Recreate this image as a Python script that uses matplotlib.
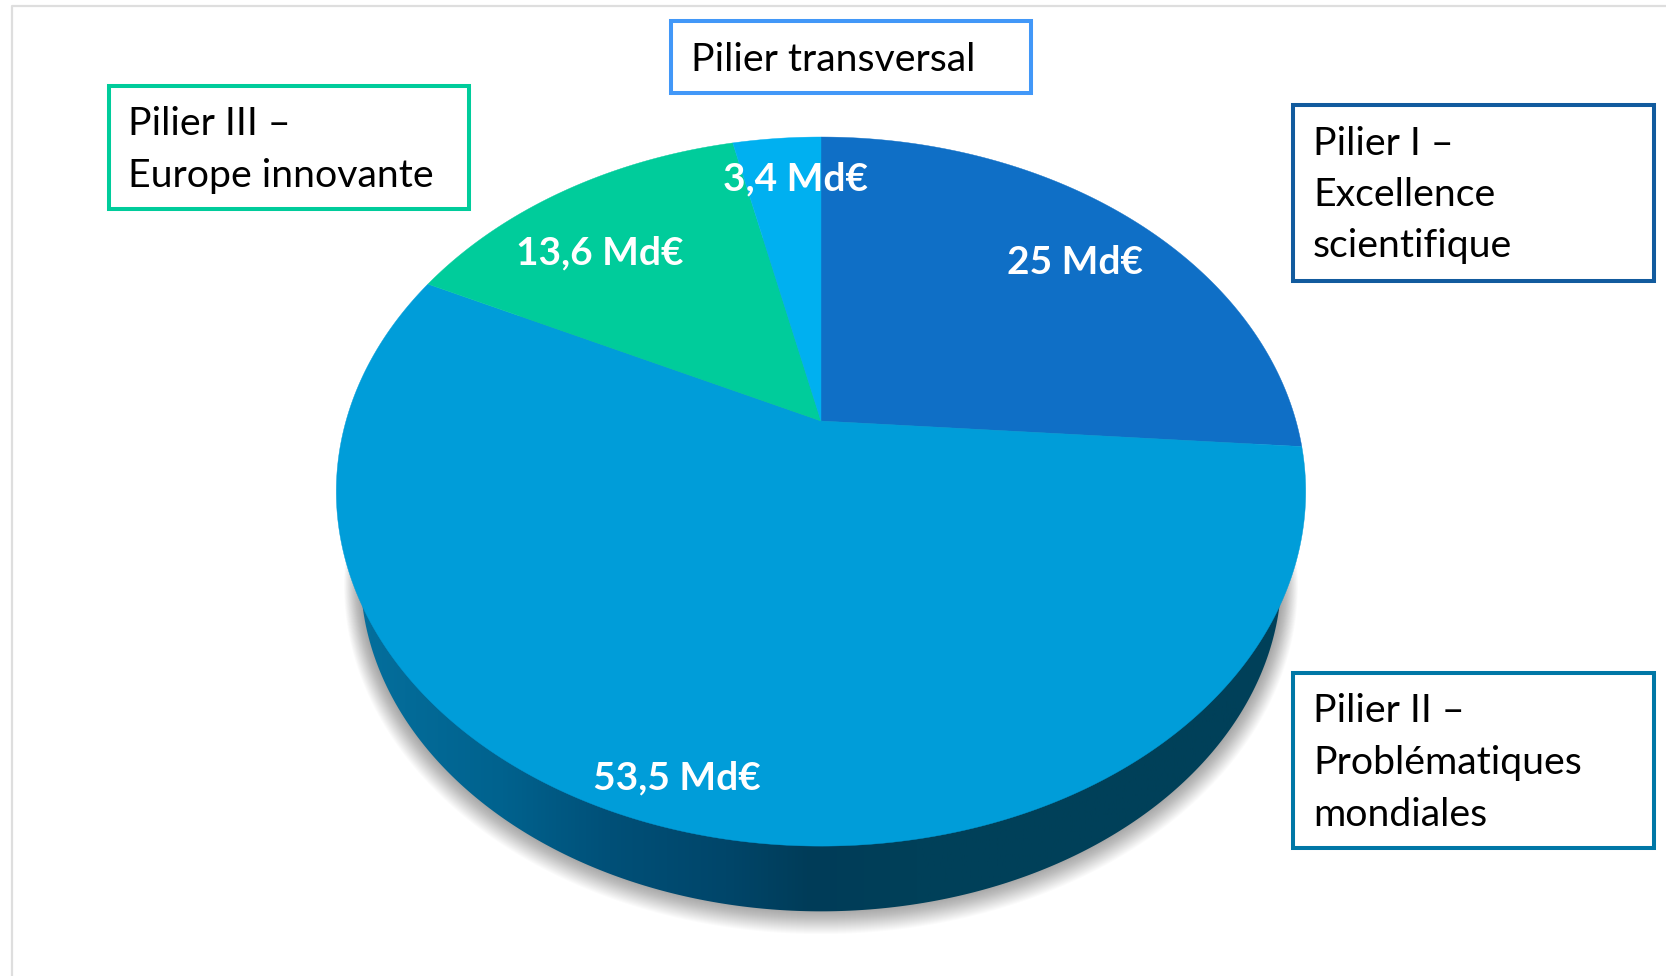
import numpy as np
import matplotlib
matplotlib.use("Agg")
import matplotlib.pyplot as plt
from matplotlib.colors import LinearSegmentedColormap
from matplotlib.patches import Polygon, Rectangle

# --- data ---
categories = ["Pilier I", "Pilier II", "Pilier III", "Pilier transversal"]
values = [25, 53.5, 13.6, 3.4]
value_labels = ["25 Md€", "53,5 Md€", "13,6 Md€", "3,4 Md€"]
box_lines = [
    ["Pilier I –", "Excellence", "scientifique"],
    ["Pilier II –", "Problématiques", "mondiales"],
    ["Pilier III –", "Europe innovante"],
    ["Pilier transversal"],
]
wedge_colors = ["#0F6FC6", "#009DD9", "#00CC9B", "#00B0F0"]
box_colors = ["#125B9E", "#0077A6", "#00CC9B", "#4298F8"]

# --- layout (pixels) ---
W, H = 1666, 976
CX, CY = 821, 421
A, B, K = 475, 340.5, 0.199
label_pos = [(1075, 263), (677, 778), (600, 253), (796, 179)]
box_rects = [(1293, 105, 1654, 281), (1293, 673, 1654, 848),
             (109, 86, 469, 209), (671, 21, 1031, 93)]
box_text_x = [1313, 1313, 128, 691]
box_base = [[155, 206, 257], [722, 774, 826], [135, 187], [71]]

plt.rcParams["font.family"] = ["Lato", "DejaVu Sans"]
fig = plt.figure(figsize=(W / 100, H / 100), dpi=100, facecolor="white")
ax = fig.add_axes([0, 0, 1, 1])


def project(theta, scale=1.0, dy=0.0):
    """Perspective view of a unit-circle point; theta clockwise from the top."""
    x, y = np.sin(theta), np.cos(theta)
    d = 1 + K * y
    return np.column_stack([CX + scale * A * x / d, CY - scale * B * y / d + dy])


circle = np.linspace(0, 2 * np.pi, 721)

# frame
ax.plot([12, 12, W], [H, 6, 6], color="#DEDEDE", lw=1.6, zorder=0)

# soft shadow
n_layers = 26
for i in range(n_layers):
    t = i / (n_layers - 1)
    s = 0.95 + 0.034 * (1 - t)
    bottom = 909 + 25 * (1 - t)
    ax.add_patch(Polygon(project(circle, s, bottom - CY - 425 * s), closed=True,
                         fc="black", ec="none", alpha=0.014, zorder=1))

# side wall with horizontal gradient
side = Polygon(project(circle, 0.95, 86.5), closed=True, fc="none", ec="none", zorder=2)
ax.add_patch(side)
cmap = LinearSegmentedColormap.from_list("side", [
    (0.0, "#05719F"), (0.17, "#00628E"), (0.28, "#005078"),
    (0.40, "#00466A"), (0.49, "#003C58"), (0.6, "#004059"), (1.0, "#004059")])
img = ax.imshow(np.linspace(0, 1, 512)[None, :], extent=(337, 1306, 930, 480), cmap=cmap,
                aspect="auto", zorder=2, vmin=0, vmax=1)
img.set_clip_path(side)

# top face wedges
edges = np.concatenate([[0], np.cumsum(values)]) / np.sum(values) * 2 * np.pi
for start, end, col in zip(edges[:-1], edges[1:], wedge_colors):
    arc = project(np.linspace(start, end, 300))
    ax.add_patch(Polygon(np.vstack([[CX, CY], arc]), closed=True, fc=col, ec=col,
                         lw=0.3, zorder=3))

# value labels
for (x, y), s in zip(label_pos, value_labels):
    ax.text(x, y, s, color="white", fontsize=28, fontweight="bold",
            ha="center", va="center", zorder=5)

# boxes
for (x0, y0, x1, y1), col, lines, tx, bases in zip(box_rects, box_colors, box_lines,
                                                   box_text_x, box_base):
    ax.add_patch(Rectangle((x0, y0), x1 - x0, y1 - y0, fc="white", ec=col, lw=2.9, zorder=4))
    for line, by in zip(lines, bases):
        ax.text(tx, by, line, color="black", fontsize=28.3, ha="left", va="baseline", zorder=5)

ax.set_xlim(0, W)
ax.set_ylim(H, 0)
ax.axis("off")
fig.savefig("out.png", dpi=100, facecolor="white")
